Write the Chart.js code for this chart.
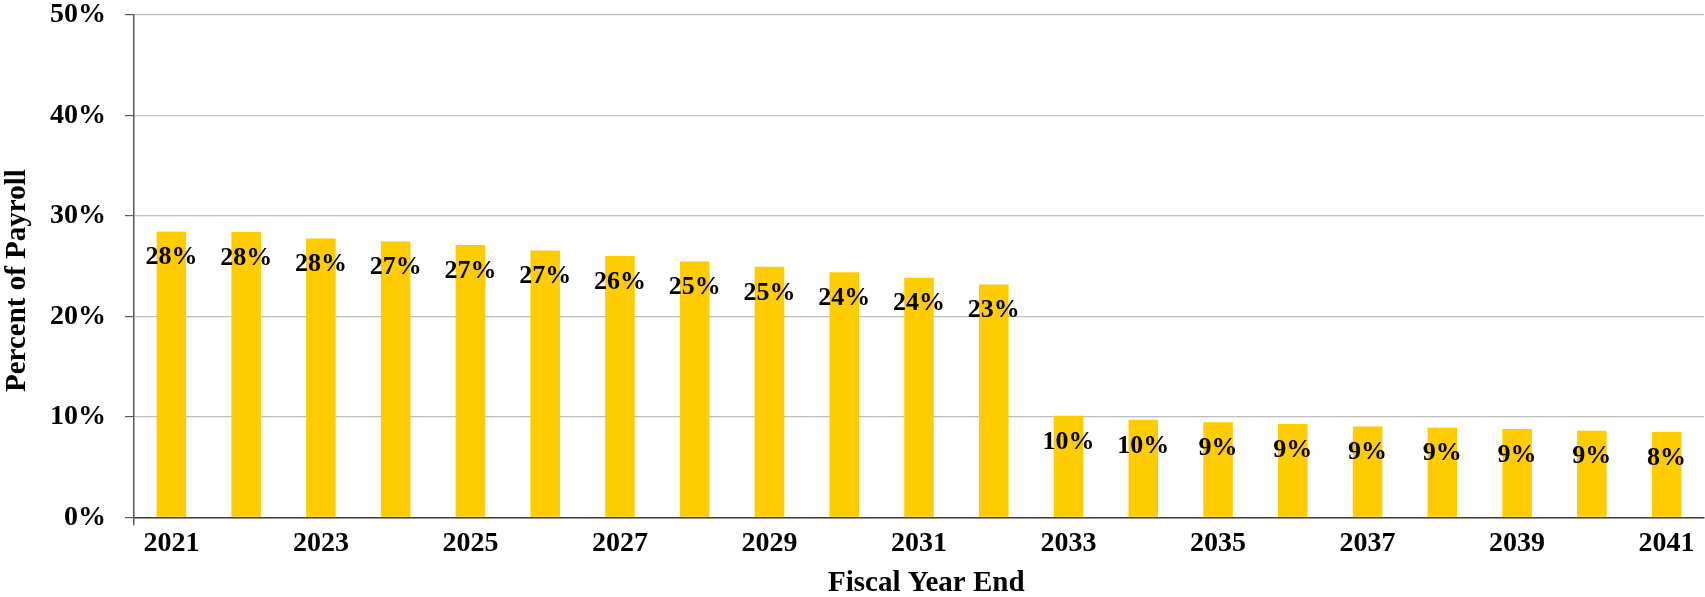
<!DOCTYPE html>
<html>
<head>
<meta charset="utf-8">
<script src="https://cdn.jsdelivr.net/npm/chart.js@4.4.1/dist/chart.umd.min.js"></script>
<style>
  html, body { margin: 0; padding: 0; background: #ffffff; }
  #wrap { position: relative; width: 1705px; height: 597px; }
</style>
</head>
<body>
<div id="wrap"><canvas id="c"></canvas></div>
<script>
// ---- data ----
const years = ['2021','2022','2023','2024','2025','2026','2027','2028','2029','2030','2031',
               '2032','2033','2034','2035','2036','2037','2038','2039','2040','2041'];
const payrollPct = [28.43, 28.40, 27.74, 27.45, 27.10, 26.55, 26.00, 25.47, 24.93, 24.40, 23.85,
                    23.18, 10.10, 9.70, 9.45, 9.28, 9.05, 8.92, 8.79, 8.62, 8.48];
const xTickLabels = ['2021','','2023','','2025','','2027','','2029','','2031',
                     '','2033','','2035','','2037','','2039','','2041'];
const yTickValues = [0, 10, 20, 30, 40, 50];

const FONT = "'Liberation Serif', 'Times New Roman', serif";

const barLabels = {
  id: 'barLabels',
  afterDatasetsDraw(chart) {
    const ctx = chart.ctx;
    const meta = chart.getDatasetMeta(0);
    ctx.save();
    ctx.font = "bold 26px " + FONT;
    ctx.fillStyle = '#000000';
    ctx.textAlign = 'center';
    ctx.textBaseline = 'middle';
    meta.data.forEach((bar, i) => {
      const v = chart.data.datasets[0].data[i];
      ctx.fillText(Math.round(v) + '%', bar.x, bar.y + 26);
    });
    ctx.restore();
  }
};

new Chart(document.getElementById('c'), {
  type: 'bar',
  data: {
    labels: years,
    datasets: [{
      data: payrollPct,
      backgroundColor: '#FFCC00',
      borderWidth: 0,
      barPercentage: 0.395,
      categoryPercentage: 1.0
    }]
  },
  plugins: [barLabels],
  options: {
    responsive: true,
    maintainAspectRatio: false,
    animation: false,
    layout: { padding: { left: 0, right: 1, top: 0, bottom: 0 } },
    plugins: { legend: { display: false }, tooltip: { enabled: false } },
    scales: {
      x: {
        grid: {
          offset: true,
          drawOnChartArea: false,
          drawTicks: true,
          tickLength: 8,
          color: (c) => c.index === 0 ? '#595959' : 'rgba(0,0,0,0)',
          lineWidth: 1.5
        },
        border: { display: true, color: '#404040', width: 1.5 },
        ticks: {
          autoSkip: false,
          maxRotation: 0,
          padding: 2,
          color: '#000000',
          font: { family: FONT, size: 28, weight: 'bold' },
          callback: (v, i) => xTickLabels[i]
        },
        title: {
          display: true,
          text: '  Fiscal Year End',
          color: '#000000',
          font: { family: FONT, size: 29, weight: 'bold', lineHeight: 0.9 },
          padding: { top: 8, bottom: 0 }
        }
      },
      y: {
        min: 0,
        max: 50,
        afterBuildTicks: (axis) => { axis.ticks = yTickValues.map(v => ({ value: v })); },
        afterFit: (scale) => {
          scale.width = 134;
          scale.paddingTop = 15;
          scale.paddingBottom = 15;
        },
        grid: {
          color: '#bdbdbd',
          lineWidth: 1.2,
          drawTicks: true,
          tickLength: 9,
          tickColor: '#595959'
        },
        border: { display: true, color: '#595959', width: 1.5 },
        ticks: {
          padding: 19,
          color: '#000000',
          font: { family: FONT, size: 28, weight: 'bold' },
          callback: (v) => v + '%'
        },
        title: {
          display: true,
          text: 'Percent of Payroll    ',
          color: '#000000',
          font: { family: FONT, size: 29, weight: 'bold' },
          padding: { top: 0, bottom: 0 }
        }
      }
    }
  }
});
</script>
</body>
</html>
